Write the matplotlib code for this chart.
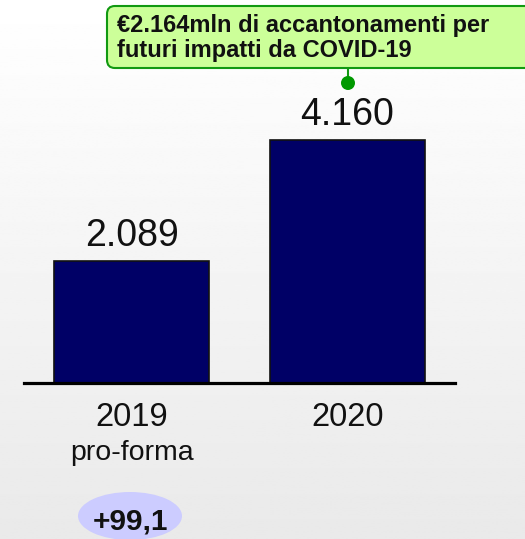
import numpy as np
import matplotlib.pyplot as plt
from matplotlib.patches import FancyBboxPatch, Ellipse

plt.rcParams['font.family'] = ['Liberation Sans', 'DejaVu Sans']

years = ['2019', '2020']
sublabels = ['pro-forma', '']
values = [2089, 4160]
value_labels = ['2.089', '4.160']
growth_label = '+99,1'
note_text = '€2.164mln di accantonamenti per\nfuturi impatti da COVID-19'

W, H = 525, 539
fig = plt.figure(figsize=(W / 100, H / 100), dpi=100)


def px(x, y):
    # pixel position (from top-left) -> figure fraction
    return x / W, 1 - y / H


# soft vertical gradient behind everything
bg = fig.add_axes([0, 0, 1, 1], zorder=-10)
grad = np.linspace(1.0, 0.915, 256).reshape(-1, 1)
bg.imshow(grad, aspect='auto', cmap='gray', vmin=0, vmax=1, extent=[0, 1, 0, 1])
bg.axis('off')

# bars
ax = fig.add_axes([24 / W, 1 - 383 / H, 431 / W, 383 / H])
ax.patch.set_alpha(0)
x = np.arange(len(values))
ax.bar(x, values, width=0.72, color='#000066', edgecolor='#111111', linewidth=1.2, zorder=2)
ax.set_xlim(-0.5, 1.5)
ax.set_ylim(0, 6558)
for s in ['top', 'right', 'left']:
    ax.spines[s].set_visible(False)
ax.spines['bottom'].set_linewidth(2.3)
ax.spines['bottom'].set_zorder(3)
ax.set_yticks([])
ax.set_xticks([])

for xi, v, lab in zip(x, values, value_labels):
    ax.annotate(lab, (xi, v), xytext=(0, 5), textcoords='offset points',
                ha='center', va='bottom', fontsize=27, color='#111111')

for xi, yr, sub in zip(x, years, sublabels):
    ax.annotate(yr, (xi, 0), xytext=(0, -14), textcoords='offset points',
                ha='center', va='top', fontsize=23.5, color='#111111',
                annotation_clip=False)
    if sub:
        ax.annotate(sub, (xi, 0), xytext=(0, -41), textcoords='offset points',
                    ha='center', va='top', fontsize=20.5, color='#111111',
                    annotation_clip=False)

# growth badge
ex, ey = px(130, 516)
fig.patches.append(Ellipse((ex, ey), 104 / W, 48 / H, transform=fig.transFigure,
                           facecolor='#ccccff', edgecolor='none'))
fig.text(*px(130, 521), growth_label, ha='center', va='center',
         fontsize=21.5, fontweight='bold', color='#111111')

# callout box with connector
bx0, by0 = px(107, 68)
fig.patches.append(FancyBboxPatch((bx0, by0), 440 / W, 62 / H,
                                  boxstyle='round,pad=0,rounding_size=0.015',
                                  transform=fig.transFigure, facecolor='#ccff99',
                                  edgecolor='#119911', linewidth=1.5, zorder=5))
fig.text(*px(117, 38), note_text, ha='left', va='center', fontsize=17,
         fontweight='bold', color='#111111', linespacing=1.1, zorder=6)
lx0, ly0 = px(348, 68)
lx1, ly1 = px(348, 83)
fig.lines.append(plt.Line2D([lx0, lx1], [ly0, ly1], transform=fig.transFigure,
                            color='#119911', linewidth=1.5, zorder=5))
fig.patches.append(Ellipse((lx1, ly1), 14 / W, 14 / H, transform=fig.transFigure,
                           facecolor='#009900', edgecolor='none', zorder=6))

fig.savefig('out.png', dpi=100)
